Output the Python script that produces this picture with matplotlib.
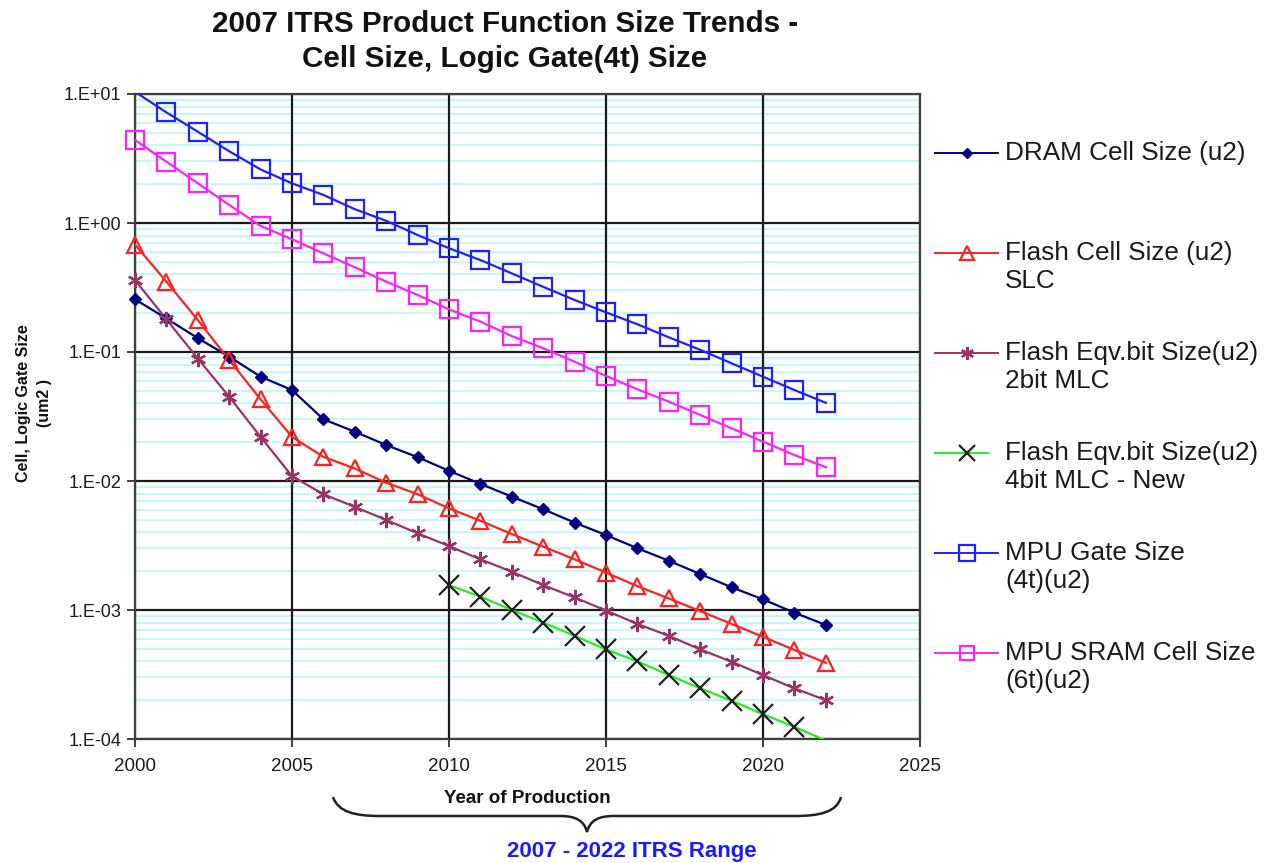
import math
import matplotlib
matplotlib.use("Agg")
import matplotlib.pyplot as plt
from matplotlib.lines import Line2D
from matplotlib.path import Path
from matplotlib.patches import PathPatch
from matplotlib.transforms import Affine2D
from matplotlib.ticker import FixedLocator, FuncFormatter, NullLocator

plt.rcParams['font.family'] = ['Liberation Sans', 'DejaVu Sans']

# ---- data -------------------------------------------------------------
years = list(range(2000, 2023))
years_4bit = list(range(2010, 2023))

dram_cell = [0.256, 0.182, 0.128, 0.092, 0.0644, 0.0507, 0.0301, 0.0241, 0.019,
             0.0153, 0.012, 0.0095, 0.00756, 0.00604, 0.00476, 0.00381, 0.00301,
             0.00241, 0.0019, 0.0015, 0.00121, 0.000953, 0.000766]
flash_slc = [0.68, 0.351, 0.177, 0.0867, 0.043, 0.022, 0.0154, 0.0125, 0.0097,
             0.0079, 0.00614, 0.00492, 0.00388, 0.0031, 0.00247, 0.00195, 0.00153,
             0.00123, 0.00098, 0.00078, 0.00062, 0.00049, 0.00039]
flash_2bit = [0.361, 0.179, 0.089, 0.045, 0.022, 0.0109, 0.0079, 0.0063, 0.00499,
              0.00393, 0.00313, 0.00247, 0.00198, 0.00156, 0.00125, 0.00099,
              0.00078, 0.00063, 0.000495, 0.000397, 0.000313, 0.000247, 0.0002]
flash_4bit = [0.00156, 0.00127, 0.001, 0.0008, 0.00063, 0.000495, 0.0004,
              0.000313, 0.000247, 0.000198, 0.000156, 0.000124, 0.0000975]
mpu_gate = [10.4, 7.2, 5.1, 3.6, 2.6, 2.03, 1.65, 1.28, 1.04, 0.807, 0.637, 0.516,
            0.407, 0.32, 0.253, 0.203, 0.164, 0.13, 0.104, 0.0817, 0.0644, 0.0507,
            0.0404]
sram_cell = [4.4, 2.99, 2.03, 1.38, 0.95, 0.748, 0.582, 0.454, 0.351, 0.277, 0.214,
             0.172, 0.133, 0.107, 0.084, 0.0652, 0.0514, 0.0412, 0.0325, 0.0256,
             0.0202, 0.0159, 0.0128]

labels = ["DRAM Cell Size (u2)",
          "Flash Cell Size (u2)\nSLC",
          "Flash Eqv.bit Size(u2)\n2bit MLC",
          "Flash Eqv.bit Size(u2)\n4bit MLC - New",
          "MPU Gate Size\n(4t)(u2)",
          "MPU SRAM Cell Size\n(6t)(u2)"]

x_ticks = [2000, 2005, 2010, 2015, 2020, 2025]
y_ticks = [1e-4, 1e-3, 1e-2, 1e-1, 1e0, 1e1]

# ---- figure -----------------------------------------------------------
W, H = 1266, 863
fig = plt.figure(figsize=(W / 100, H / 100), dpi=100)
px = Affine2D().scale(1 / W, -1 / H).translate(0, 1) + fig.transFigure

L, R, T, B = 135, 920, 94, 739
ax = fig.add_axes([L / W, 1 - B / H, (R - L) / W, (B - T) / H])
ax.set_yscale('log')
ax.set_xlim(2000, 2025)
ax.set_ylim(1e-4, 1e1)

# light cyan minor rules, then black major grid on top of them
for d in y_ticks[:-1]:
    for k in range(2, 10):
        ax.axhline(d * k, color='#c9f7f7', lw=1.6, zorder=0.5)
for v in y_ticks:
    ax.axhline(v, color='#1a1a1a', lw=1.6, zorder=1)
for v in x_ticks:
    ax.axvline(v, color='#1a1a1a', lw=1.6, zorder=1)

styles = [
    dict(color='#000080', marker='D', ms=6.3, mfc='#000080', mec='#000080'),
    dict(color='#ff2020', marker='^', ms=12, mfc='none', mec='#ff2020', mew=1.6),
    dict(color='#993366', marker=(6, 2, 0), ms=11, mfc='#993366', mec='#993366', mew=1.6),
    dict(color='#22ee22', marker='x', ms=14, mfc='none', mec='#202020', mew=1.6),
    dict(color='#2020ff', marker='s', ms=13, mfc='none', mec='#2020ff', mew=1.6),
    dict(color='#ff20ff', marker='s', ms=12.5, mfc='none', mec='#ff20ff', mew=1.6),
]

series = [(years, dram_cell, None),
          (years, flash_slc, None),
          (years, flash_2bit, None),
          (years_4bit, flash_4bit, list(range(len(years_4bit) - 1))),
          (years, mpu_gate, list(range(1, len(years)))),
          (years, sram_cell, None)]

for (xs, ys, mev), st in zip(series, styles):
    ax.plot(xs, ys, lw=1.6, color=st['color'], zorder=3)
    mk = {k: v for k, v in st.items() if k != 'color'}
    ax.plot(xs, ys, lw=0, markevery=mev, clip_on=False, zorder=4, **mk)

# axes styling
ax.yaxis.set_major_locator(FixedLocator(y_ticks))
ax.yaxis.set_minor_locator(NullLocator())
ax.yaxis.set_major_formatter(FuncFormatter(lambda v, p: "1.E%+03d" % round(math.log10(v))))
ax.xaxis.set_major_locator(FixedLocator(x_ticks))
for s in ax.spines.values():
    s.set_color('#404040')
    s.set_linewidth(1.6)
    s.set_zorder(2)
ax.tick_params(which='major', direction='out', length=6, width=1.4, color='#404040',
               labelsize=13, labelcolor='#1a1a1a', pad=4)
ax.tick_params(axis='x', labelsize=13.5, pad=8)

# titles and labels
fig.text(505, 41.5, "2007 ITRS Product Function Size Trends -\nCell Size, Logic Gate(4t) Size",
         transform=px, ha='center', va='center', fontsize=21.3, fontweight='bold',
         linespacing=1.3, color='#111111')
fig.text(34, 403, "Cell, Logic Gate Size\n(um2 )", transform=px, rotation=90,
         ha='center', va='center', fontsize=11.5, fontweight='bold', linespacing=1.55,
         color='#111111')
fig.text(527, 798, "Year of Production", transform=px, ha='center', va='center',
         fontsize=13.5, fontweight='bold', color='#111111')
fig.text(632, 851, "2007 - 2022 ITRS Range", transform=px, ha='center', va='center',
         fontsize=16, fontweight='bold', color='#1a1aff')

# curly brace under the x axis
verts = [(333, 797), (338, 812), (355, 816), (380, 816),
         (560, 816),
         (575, 816), (584, 820), (587, 832),
         (590, 820), (599, 816), (614, 816),
         (795, 816),
         (820, 816), (837, 812), (841, 797)]
codes = [Path.MOVETO, Path.CURVE4, Path.CURVE4, Path.CURVE4,
         Path.LINETO,
         Path.CURVE4, Path.CURVE4, Path.CURVE4,
         Path.CURVE4, Path.CURVE4, Path.CURVE4,
         Path.LINETO,
         Path.CURVE4, Path.CURVE4, Path.CURVE4]
fig.add_artist(PathPatch(Path(verts, codes), transform=px, fill=False,
                         edgecolor='#222222', lw=1.8))

# legend on the right, handle aligned with the first text line
for i, (lab, st) in enumerate(zip(labels, styles)):
    y0 = 153 + 100 * i
    x_end = 988 if i == 3 else 998
    mk = {k: v for k, v in st.items() if k != 'color'}
    mk['ms'] = st['ms'] * 0.85
    fig.add_artist(Line2D([935, x_end], [y0, y0], transform=px, lw=1.4,
                          color=st['color']))
    fig.add_artist(Line2D([966.5], [y0], transform=px, lw=0, **mk))
    for j, line in enumerate(lab.split("\n")):
        fig.text(1005, y0 + 28.3 * j, line, transform=px, ha='left', va='center',
                 fontsize=18.8, color='#1a1a1a')

fig.savefig("out.png", dpi=100, facecolor='white')
